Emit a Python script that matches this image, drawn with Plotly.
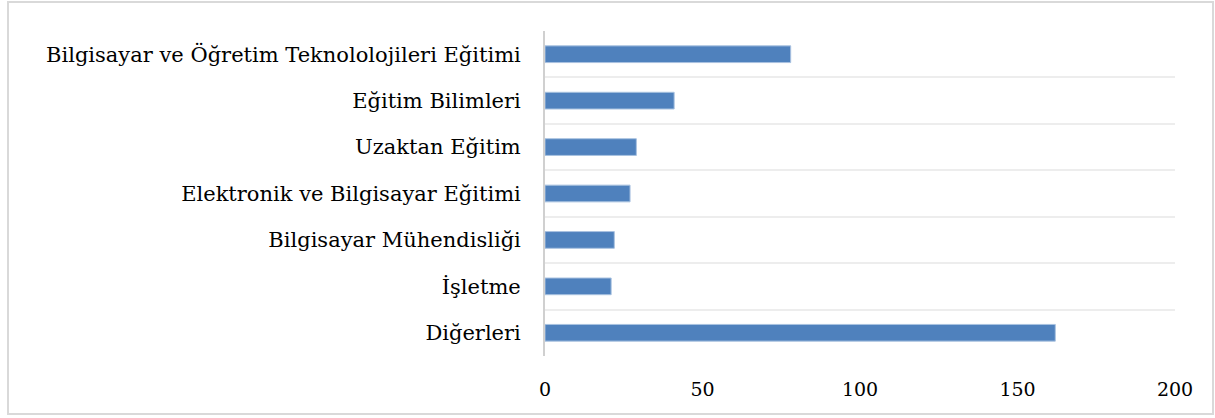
import plotly.graph_objects as go

categories = [
    "Bilgisayar ve Öğretim Teknololojileri Eğitimi",
    "Eğitim Bilimleri",
    "Uzaktan Eğitim",
    "Elektronik ve Bilgisayar Eğitimi",
    "Bilgisayar Mühendisliği",
    "İşletme",
    "Diğerleri",
]
values = [78, 41, 29, 27, 22, 21, 162]
x_ticks = [0, 50, 100, 150, 200]

W, H = 1215, 418
L, R, T, B = 545, 1175, 31, 356

fig = go.Figure(go.Bar(
    x=values, y=categories, orientation="h",
    marker=dict(color="#4F81BD", line=dict(color="#A9C2E0", width=1)),
    width=0.36,
))

yfnt = dict(family="DejaVu Serif, serif", size=21, color="#000000")
xfnt = dict(family="DejaVu Serif, serif", size=19, color="#000000")

fig.update_layout(
    width=W, height=H,
    margin=dict(l=L, r=W - R, t=T, b=H - B, pad=0),
    plot_bgcolor="white", paper_bgcolor="white",
    showlegend=False,
    font=yfnt,
    xaxis=dict(range=[0, 200], tickvals=x_ticks, showgrid=False, zeroline=False,
               showline=False, ticks="", tickfont=xfnt, ticklabelstandoff=20),
    yaxis=dict(type="category", autorange="reversed", tickson="boundaries",
               showgrid=True, gridcolor="#EDEDED", gridwidth=2,
               showline=True, linecolor="#D0D0D0", linewidth=2,
               ticks="", tickfont=yfnt, ticklabelstandoff=18),
)

pw, ph = R - L, B - T
fig.add_shape(type="rect", xref="paper", yref="paper",
              x0=(8 - L) / pw, x1=(1213 - L) / pw,
              y0=(B - 414) / ph, y1=(B - 2) / ph,
              line=dict(color="#D9D9D9", width=2), fillcolor="rgba(0,0,0,0)", layer="below")

fig.write_html("out.html", config={"displayModeBar": False},
               post_script="document.body.style.margin='0';document.body.style.overflow='hidden';")
